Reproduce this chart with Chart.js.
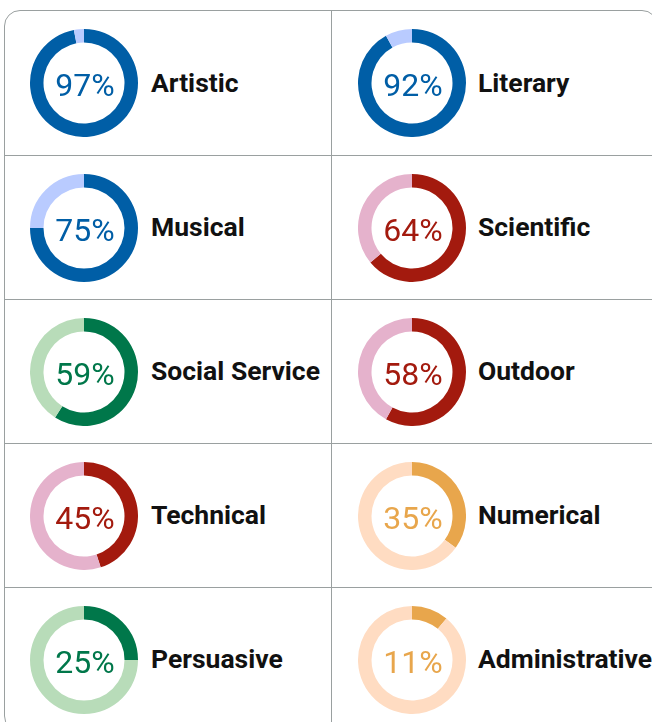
<!DOCTYPE html>
<html>
<head>
<meta charset="utf-8">
<script src="https://cdn.jsdelivr.net/npm/chart.js@4.4.1/dist/chart.umd.min.js"></script>
<style>
  html, body { margin: 0; padding: 0; background: #ffffff; overflow: hidden; }
  body { width: 652px; height: 722px; position: relative; font-family: Roboto, "Noto Sans", sans-serif; }
  #grid {
    position: absolute; left: 4px; top: 10px; width: 654px; height: 722px;
    border: 1px solid #9aa0a0; border-radius: 16px; box-sizing: border-box; overflow: hidden;
    display: grid; grid-template-columns: 327px 327px; grid-template-rows: 145px 144px 144px 144px 144px;
  }
  .cell {
    box-sizing: border-box; border-bottom: 1px solid #9aa0a0; display: flex; align-items: center;
    padding-left: 25px; white-space: nowrap;
  }
  .cell.left { border-right: 1px solid #9aa0a0; }
  .cell.right { padding-left: 26px; }
  .donut { position: relative; width: 108px; height: 108px; flex: none; }
  .donut canvas { position: absolute; left: 0; top: 0; }
  .pct {
    position: absolute; left: 1px; top: 2px; width: 108px; height: 108px; display: flex;
    align-items: center; justify-content: center; font-size: 32px; font-weight: 400;
  }
  .label { margin-left: 13px; margin-top: -2px; font-size: 26.5px; font-weight: 700; color: #111; }
  .cell.right .label { margin-left: 12px; }
</style>
</head>
<body>
<div id="grid"></div>
<script>
const categories = ["Artistic", "Literary", "Musical", "Scientific", "Social Service", "Outdoor", "Technical", "Numerical", "Persuasive", "Administrative"];
const values = [97, 92, 75, 64, 59, 58, 45, 35, 25, 11];
const colorGroups = ["blue", "blue", "blue", "red", "green", "red", "red", "orange", "green", "orange"];
const palette = {
  blue:   { dark: "#005ea6", light: "#b9cbff" },
  red:    { dark: "#a31a0e", light: "#e5b2cc" },
  green:  { dark: "#00774a", light: "#b8dcb9" },
  orange: { dark: "#e8a64c", light: "#ffdcc2" }
};

const grid = document.getElementById("grid");
categories.forEach((name, i) => {
  const col = palette[colorGroups[i]];
  const cell = document.createElement("div");
  cell.className = "cell " + (i % 2 === 0 ? "left" : "right");
  const wrap = document.createElement("div");
  wrap.className = "donut";
  const canvas = document.createElement("canvas");
  canvas.width = 108; canvas.height = 108;
  canvas.style.width = "108px"; canvas.style.height = "108px";
  wrap.appendChild(canvas);
  const pct = document.createElement("div");
  pct.className = "pct";
  pct.style.color = col.dark;
  pct.textContent = values[i] + "%";
  wrap.appendChild(pct);
  cell.appendChild(wrap);
  const label = document.createElement("div");
  label.className = "label";
  label.textContent = name;
  cell.appendChild(label);
  grid.appendChild(cell);

  new Chart(canvas, {
    type: "doughnut",
    data: {
      labels: [name, ""],
      datasets: [{
        data: [values[i], 100 - values[i]],
        backgroundColor: [col.dark, col.light],
        borderWidth: 0
      }]
    },
    options: {
      responsive: false,
      animation: false,
      cutout: "75%",
      layout: { padding: 0 },
      plugins: { legend: { display: false }, tooltip: { enabled: false } },
      events: []
    }
  });
});
</script>
</body>
</html>
